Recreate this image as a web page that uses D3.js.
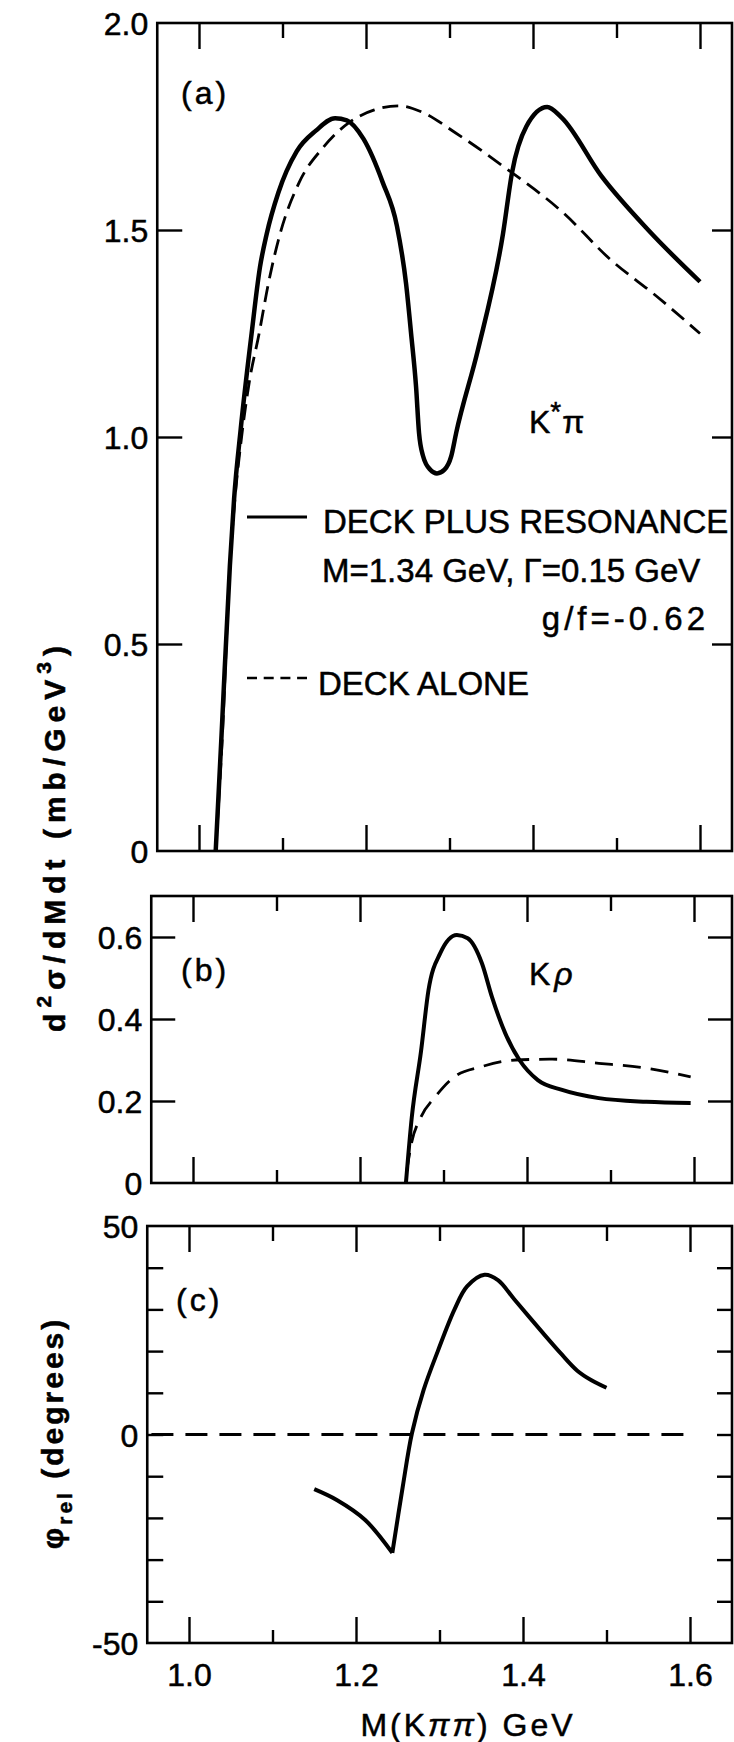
<!DOCTYPE html>
<html>
<head>
<meta charset="utf-8">
<script src="https://cdn.jsdelivr.net/npm/d3@7"></script>
<style>
  body { margin: 0; background: #fff; }
  text { font-family: "Liberation Sans", Arial, sans-serif; fill: #000; stroke: #000; stroke-width: 0.5px; }
</style>
</head>
<body>
<script>
// M(K pi pi) in GeV against value
let deckResA = [
  [1.020, 0.00], [1.027, 0.28], [1.037, 0.69], [1.042, 0.85], [1.050, 1.02],
  [1.063, 1.25], [1.073, 1.41], [1.081, 1.49], [1.095, 1.59], [1.117, 1.69],
  [1.140, 1.74], [1.163, 1.77], [1.177, 1.765], [1.197, 1.72], [1.220, 1.615],
  [1.237, 1.51], [1.248, 1.37], [1.254, 1.25], [1.260, 1.12], [1.2635, 1.01],
  [1.2685, 0.953], [1.277, 0.921], [1.285, 0.912], [1.294, 0.921], [1.302, 0.953],
  [1.308, 1.01], [1.334, 1.21], [1.364, 1.49], [1.375, 1.64], [1.392, 1.75],
  [1.417, 1.797], [1.434, 1.772], [1.482, 1.63], [1.538, 1.50], [1.600, 1.375]
];
let deckA = [
  [1.020, 0.00], [1.028, 0.28], [1.037, 0.69], [1.043, 0.85], [1.051, 1.00],
  [1.060, 1.13], [1.072, 1.25], [1.083, 1.37], [1.097, 1.49], [1.120, 1.615],
  [1.149, 1.70], [1.180, 1.76], [1.210, 1.79], [1.240, 1.80], [1.267, 1.785],
  [1.307, 1.735], [1.369, 1.647], [1.436, 1.542], [1.492, 1.43], [1.548, 1.34],
  [1.600, 1.25]
];
let deckResB = [
  [1.255, 0.00], [1.262, 0.16], [1.273, 0.32], [1.282, 0.47], [1.296, 0.56],
  [1.316, 0.605], [1.329, 0.597], [1.346, 0.536], [1.358, 0.454], [1.374, 0.365],
  [1.391, 0.30], [1.413, 0.251], [1.442, 0.227], [1.486, 0.207], [1.543, 0.198],
  [1.596, 0.195]
];
let deckB = [
  [1.256, 0.03], [1.262, 0.10], [1.273, 0.161], [1.290, 0.21], [1.313, 0.259],
  [1.346, 0.284], [1.386, 0.30], [1.430, 0.302], [1.486, 0.292], [1.543, 0.28],
  [1.596, 0.259]
];
// phase curve is split at the cusp
let phaseC1 = [
  [1.150, -13.1], [1.177, -15.7], [1.211, -20.5], [1.2435, -28.4]
];
let phaseC2 = [
  [1.2435, -28.4], [1.256, -12.5], [1.267, 0.3], [1.281, 10.7], [1.298, 20.0],
  [1.318, 30.0], [1.333, 35.5], [1.354, 38.3], [1.370, 37.0], [1.390, 32.3],
  [1.424, 24.3], [1.445, 19.5], [1.465, 15.3], [1.482, 13.0], [1.500, 11.2]
];
let phaseDeckC = [[0.955, 0], [1.597, 0]];

let xMajor = [1.0, 1.2, 1.4, 1.6];
let xMinor = [1.1, 1.3, 1.5];
let yLabelsA = [0, 0.5, 1.0, 1.5, 2.0];
let yTicksA = [0.5, 1.0, 1.5];
let yLabelsB = [0, 0.2, 0.4, 0.6];
let yTicksB = [0.2, 0.4, 0.6];
let yLabelsC = [-50, 0, 50];
let yTicksC = [-40, -30, -20, -10, 0, 10, 20, 30, 40];

let legendLabels = ["DECK PLUS RESONANCE", "M=1.34 GeV, \u0393=0.15 GeV", "g/f=-0.62", "DECK ALONE"];

let svg = d3.select("body").append("svg")
  .attr("width", 734)
  .attr("height", 1742);

let fmt1 = d => d === 0 ? "0" : d3.format(".1f")(d);

let smooth = d3.curveMonotoneX;
let sharp = d3.curveCatmullRom.alpha(0.5);

let panels = [
  {id: "a", top: 23, bottom: 851, x10: 199, yDomain: [0, 2], labels: yLabelsA, ticks: yTicksA,
   fmt: fmt1, tickL: 25, tickR: 20, solid: [deckResA], dashed: deckA, sw: 4.5, dash: "16,8", curve: smooth},
  {id: "b", top: 896, bottom: 1183, x10: 193, yDomain: [0, 0.7], labels: yLabelsB, ticks: yTicksB,
   fmt: fmt1, tickL: 24, tickR: 24, solid: [deckResB], dashed: deckB, sw: 4, dash: "18,10", curve: smooth},
  {id: "c", top: 1226, bottom: 1643, x10: 189, yDomain: [-50, 50], labels: yLabelsC, ticks: yTicksC,
   fmt: d => String(d), tickL: 16, tickR: 15, solid: [phaseC1, phaseC2], dashed: phaseDeckC, sw: 4, dash: "22,12", curve: sharp}
];

let right = 732;

panels.forEach(p => {
  let x = d3.scaleLinear().domain([1.0, 1.6]).range([p.x10, p.x10 + 501]);
  let y = d3.scaleLinear().domain(p.yDomain).range([p.bottom, p.top]);
  let left = x(0.95);
  p.x = x; p.y = y;

  let g = svg.append("g");

  // frame
  g.append("rect")
    .attr("x", left).attr("y", p.top)
    .attr("width", right - left).attr("height", p.bottom - p.top)
    .attr("fill", "none").attr("stroke", "#000").attr("stroke-width", 2.6);

  let tidy = (sel, w) => {
    sel.select(".domain").remove();
    sel.selectAll("line").attr("stroke", "#000").attr("stroke-width", w);
  };

  // x ticks, top and bottom, pointing inward
  g.append("g").attr("transform", `translate(0,${p.bottom})`)
    .call(d3.axisBottom(x).tickValues(xMajor).tickSize(-26).tickFormat(""))
    .call(s => tidy(s, 2.4));
  g.append("g").attr("transform", `translate(0,${p.bottom})`)
    .call(d3.axisBottom(x).tickValues(xMinor).tickSize(-13).tickFormat(""))
    .call(s => tidy(s, 2.4));
  g.append("g").attr("transform", `translate(0,${p.top})`)
    .call(d3.axisTop(x).tickValues(xMajor).tickSize(-26).tickFormat(""))
    .call(s => tidy(s, 2.4));
  g.append("g").attr("transform", `translate(0,${p.top})`)
    .call(d3.axisTop(x).tickValues(xMinor).tickSize(-15).tickFormat(""))
    .call(s => tidy(s, 2.4));

  // y ticks left and right
  g.append("g").attr("transform", `translate(${left},0)`)
    .call(d3.axisLeft(y).tickValues(p.ticks).tickSize(-p.tickL).tickFormat(""))
    .call(s => tidy(s, 2.4));
  g.append("g").attr("transform", `translate(${right},0)`)
    .call(d3.axisRight(y).tickValues(p.ticks).tickSize(-p.tickR).tickFormat(""))
    .call(s => tidy(s, 2.4));

  // y tick labels
  g.append("g").attr("transform", `translate(${left},0)`)
    .call(d3.axisLeft(y).tickValues(p.labels).tickSize(0).tickPadding(9).tickFormat(p.fmt))
    .call(s => {
      s.select(".domain").remove();
      s.selectAll("text").attr("font-size", 32).attr("font-family", "Liberation Sans, Arial, sans-serif")
        .attr("dy", "0.36em");
    });

  let line = d3.line().x(d => x(d[0])).y(d => y(d[1])).curve(p.curve);

  g.append("path").datum(p.dashed)
    .attr("d", line)
    .attr("fill", "none").attr("stroke", "#000")
    .attr("stroke-width", 2.8).attr("stroke-dasharray", p.dash);
  p.solid.forEach(seg => {
    g.append("path").datum(seg)
      .attr("d", line)
      .attr("fill", "none").attr("stroke", "#000")
      .attr("stroke-width", p.sw).attr("stroke-linejoin", "round");
  });
});

// x tick labels under panel c
let pc = panels[2];
svg.append("g").attr("transform", `translate(0,${pc.bottom})`)
  .call(d3.axisBottom(pc.x).tickValues(xMajor).tickSize(0).tickPadding(20).tickFormat(d3.format(".1f")))
  .call(s => {
    s.select(".domain").remove();
    s.selectAll("text").attr("font-size", 32).attr("font-family", "Liberation Sans, Arial, sans-serif")
      .attr("dy", "0.72em");
  });

// panel tags
let tag = (t, tx, ty) => svg.append("text").attr("x", tx).attr("y", ty)
  .attr("font-size", 32).attr("letter-spacing", 3).text(t);
tag("(a)", 181, 104);
tag("(b)", 181, 981);
tag("(c)", 176, 1311);

// K*pi label
let kp = svg.append("text").attr("x", 529).attr("y", 433).attr("font-size", 32);
kp.append("tspan").text("K");
kp.append("tspan").attr("font-size", 28).attr("dy", -12).text("*");
kp.append("tspan").attr("dy", 12).attr("dx", 1).text("\u03C0");

// K rho label
let kr = svg.append("text").attr("x", 529).attr("y", 985).attr("font-size", 32);
kr.append("tspan").text("K");
kr.append("tspan").attr("dx", 4).attr("font-style", "italic").text("\u03C1");

// legend
svg.append("line")
  .attr("x1", 247).attr("x2", 307).attr("y1", 517).attr("y2", 517)
  .attr("stroke", "#000").attr("stroke-width", 3);
svg.append("line")
  .attr("x1", 247).attr("x2", 307).attr("y1", 678).attr("y2", 678)
  .attr("stroke", "#000").attr("stroke-width", 2.6).attr("stroke-dasharray", "10,6.7");
svg.append("text").attr("x", 323).attr("y", 533).attr("font-size", 33).text(legendLabels[0]);
svg.append("text").attr("x", 322).attr("y", 582).attr("font-size", 33).text(legendLabels[1]);
svg.append("text").attr("x", 709).attr("y", 630).attr("font-size", 33)
  .attr("text-anchor", "end").attr("letter-spacing", 4).text(legendLabels[2]);
svg.append("text").attr("x", 318).attr("y", 695).attr("font-size", 33).text(legendLabels[3]);

// y axis title for (a) and (b)
let yt = svg.append("text")
  .attr("transform", "translate(65,836) rotate(-90)")
  .attr("text-anchor", "middle")
  .attr("font-size", 30).attr("font-weight", "bold").attr("letter-spacing", 6);
yt.append("tspan").text("d");
yt.append("tspan").attr("font-size", 21).attr("dy", -14).text("2");
yt.append("tspan").attr("dy", 14).text("\u03C3/dMdt (mb/GeV");
yt.append("tspan").attr("font-size", 21).attr("dy", -14).text("3");
yt.append("tspan").attr("dy", 14).text(")");

// y axis title for (c)
let pt = svg.append("text")
  .attr("transform", "translate(63,1433) rotate(-90)")
  .attr("text-anchor", "middle")
  .attr("font-size", 30).attr("font-weight", "bold").attr("letter-spacing", 3);
pt.append("tspan").text("\u03C6");
pt.append("tspan").attr("font-size", 21).attr("dy", 9).text("rel");
pt.append("tspan").attr("dy", -9).text(" (degrees)");

// x axis title
let xt = svg.append("text").attr("x", 468).attr("y", 1736)
  .attr("text-anchor", "middle").attr("font-size", 32).attr("letter-spacing", 3);
xt.append("tspan").text("M(K");
xt.append("tspan").attr("font-style", "italic").text("\u03C0\u03C0");
xt.append("tspan").text(") GeV");
</script>
</body>
</html>
